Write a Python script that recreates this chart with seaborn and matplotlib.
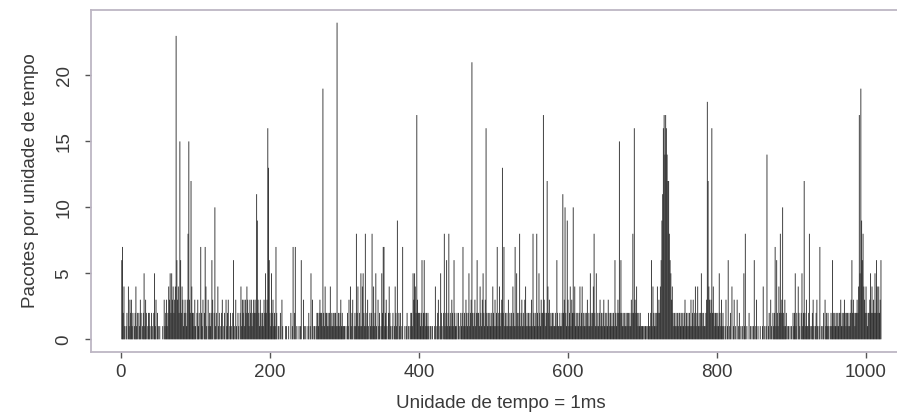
import numpy as np
import pandas as pd
import matplotlib
matplotlib.use("Agg")
import matplotlib.pyplot as plt
import seaborn as sns

# Packets per 1 ms time unit (time units 0..1020)
counts_000_199 = [
    0,6,7,2,4,1,0,1,2,0,4,1,3,2,3,1,2,0,1,2,
    4,1,2,0,2,1,3,2,0,1,2,5,1,3,2,0,1,2,2,1,
    0,2,1,0,2,5,1,3,0,2,1,0,1,0,0,0,1,0,3,1,
    2,3,1,2,4,3,5,2,5,3,4,2,3,4,23,6,3,4,2,15,
    6,2,4,3,1,2,3,2,1,3,8,15,3,2,12,4,2,2,1,3,
    1,0,2,3,1,2,0,7,2,1,3,0,2,7,4,1,0,3,1,2,
    1,2,6,3,0,2,10,1,2,0,4,1,2,0,1,2,3,0,1,2,
    0,3,1,2,3,0,1,2,1,0,2,6,1,0,3,1,0,2,1,0,
    2,4,1,3,2,3,1,3,2,4,3,2,1,3,2,3,1,2,3,2,
    3,2,11,9,3,2,1,3,2,1,2,1,3,2,5,2,3,16,13,6,
]
counts_200_399 = [
    2,1,5,2,3,1,2,1,7,2,0,1,1,0,2,0,3,1,0,0,
    0,1,1,0,0,1,0,0,2,0,1,7,0,2,7,0,1,0,0,1,
    0,1,6,0,0,3,1,0,1,0,0,1,2,0,1,5,0,3,0,1,
    1,0,1,2,2,1,2,3,2,2,1,19,2,1,4,2,2,1,2,1,
    2,4,1,2,1,2,1,2,2,1,24,1,2,1,2,3,1,2,1,1,
    1,0,1,0,2,1,3,0,4,1,2,3,0,1,2,1,8,2,4,1,
    2,1,5,1,4,5,2,1,8,1,2,3,1,0,2,1,2,8,1,4,
    1,2,5,1,0,3,1,2,0,1,5,2,7,7,1,2,3,1,0,2,
    4,2,1,0,1,2,0,1,4,2,1,9,0,2,1,2,0,1,7,0,
    0,1,0,1,2,0,1,0,1,2,2,1,5,3,5,4,2,17,3,2,
]
counts_400_599 = [
    2,2,1,2,6,1,2,6,2,1,2,1,2,1,0,1,1,0,1,0,
    0,1,4,0,1,2,3,0,1,5,2,1,0,2,8,1,2,6,1,2,
    8,1,2,1,3,2,1,6,2,1,1,2,0,2,1,0,2,1,2,7,
    1,2,1,3,2,1,2,5,1,2,3,21,2,1,2,3,1,2,6,2,
    2,1,4,2,1,3,5,2,1,3,16,2,1,2,1,2,1,2,1,4,
    2,1,3,1,2,7,1,2,4,1,2,3,13,2,7,1,2,1,2,1,
    3,1,2,1,2,1,4,2,1,7,1,5,2,1,2,8,1,2,3,1,
    2,1,3,4,1,2,1,2,1,2,1,3,1,8,2,1,2,1,8,2,
    1,5,2,1,3,2,2,17,3,2,1,2,12,4,2,3,1,2,1,2,
    2,1,1,2,1,6,2,1,1,2,1,1,2,11,2,3,10,2,1,9,
]
counts_600_799 = [
    3,1,2,4,1,3,2,10,2,4,1,2,1,2,1,2,4,1,2,4,
    1,2,1,2,1,2,3,1,2,1,5,2,1,2,4,8,2,1,5,1,
    2,1,2,3,1,2,1,2,3,1,2,1,2,1,3,2,1,2,1,2,
    1,2,1,6,2,1,2,3,2,15,2,6,2,1,2,1,2,1,2,1,
    2,2,1,2,1,3,2,8,2,16,3,2,4,2,1,2,1,2,1,1,
    1,1,0,1,1,1,0,1,2,1,1,2,6,1,4,2,1,2,1,2,
    4,2,3,2,4,6,9,11,16,17,14,17,16,14,12,12,8,6,5,3,
    4,2,1,2,1,2,1,2,1,2,2,1,2,1,2,1,2,3,1,2,
    1,2,1,2,1,3,1,2,3,1,2,4,1,2,4,1,2,1,2,5,
    2,1,2,1,1,2,3,18,12,4,3,2,3,16,2,4,2,1,2,2,
]
counts_800_1020 = [
    1,2,1,5,2,1,3,1,2,1,0,1,3,0,1,6,0,1,2,0,
    4,0,1,3,0,1,0,3,0,1,2,0,1,0,1,0,5,1,8,0,
    1,0,0,2,0,1,0,1,0,1,6,0,1,3,0,1,0,0,1,0,
    0,1,4,0,1,0,1,14,0,1,2,0,3,1,0,2,1,2,7,1,
    6,2,1,4,2,8,2,3,10,2,1,3,1,2,0,1,1,0,1,0,
    1,0,2,1,2,5,1,2,0,4,2,1,0,2,5,1,2,12,2,1,
    3,1,1,2,8,1,0,1,2,3,1,0,1,2,3,1,0,1,7,0,
    1,0,1,2,0,3,1,2,1,2,1,0,1,2,1,6,2,1,2,1,
    2,1,2,1,2,2,3,1,2,1,2,3,2,1,2,2,1,2,1,2,
    3,6,2,3,2,1,2,2,3,2,4,17,5,19,9,6,8,4,3,2,
    4,2,1,2,2,3,5,2,4,2,3,2,5,2,6,4,2,4,2,3,6,
]
x_ticks = [0, 200, 400, 600, 800, 1000]
y_ticks = [0, 5, 10, 15, 20]
x_label = "Unidade de tempo = 1ms"
y_label = "Pacotes por unidade de tempo"

counts = (counts_000_199 + counts_200_399 + counts_400_599
          + counts_600_799 + counts_800_1020)
df = pd.DataFrame({"t": np.arange(len(counts)), "n": counts})

sns.set_theme(style="white")
plt.rcParams["font.family"] = ["Liberation Sans", "DejaVu Sans"]

fig = plt.figure(figsize=(8.97, 4.18), dpi=100)
ax = fig.add_axes([0.101, 0.158, 0.915, 0.818])

sns.histplot(data=df, x="t", weights="n", discrete=True, shrink=1.3,
             color="#101010", alpha=0.8, linewidth=0, snap=False,
             antialiased=True, ax=ax)

n = len(counts) - 1
ax.set_xlim(-0.04 * n, n * 1.04)
ax.set_ylim(-0.04 * 24, 24 * 1.04)
ax.set_xticks(x_ticks)
ax.set_yticks(y_ticks)
ax.set_xticklabels([str(v) for v in x_ticks])
ax.set_yticklabels([str(v) for v in y_ticks], rotation=90, va="center")

txt = "#3a3a3a"
ax.tick_params(axis="both", direction="out", length=4, width=1,
               color="#555555", labelcolor=txt, labelsize=13.5,
               bottom=True, left=True)
ax.tick_params(axis="x", pad=5)
ax.tick_params(axis="y", pad=9)
for s in ax.spines.values():
    s.set_color("#bdb6c4")
    s.set_linewidth(1.3)
    s.set_visible(True)

ax.set_xlabel(x_label, fontsize=13.5, color=txt, labelpad=10)
ax.set_ylabel(y_label, fontsize=13.5, color=txt, labelpad=12)
ax.grid(False)

fig.savefig("out.png", dpi=100)
